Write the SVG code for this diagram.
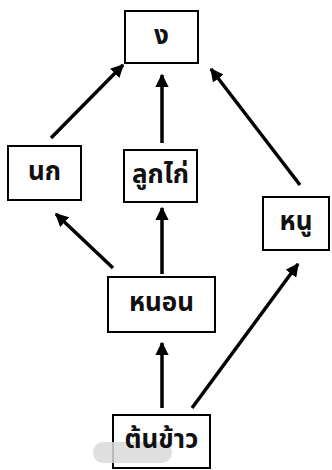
<svg xmlns="http://www.w3.org/2000/svg" width="332" height="470" viewBox="0 0 332 470">
<style>
.box{fill:#fff;stroke:#000;stroke-width:2}
.t{font-family:"Noto Sans Thai","Noto Sans","DejaVu Sans",sans-serif;font-size:26px;font-weight:bold;text-anchor:middle;dominant-baseline:central;fill:#111}
.c{stroke:#000;stroke-width:3.5;fill:none;marker-end:url(#ah)}
</style>
<defs>
<marker id="ah" viewBox="0 0 10 10" refX="9" refY="5" markerWidth="3.8" markerHeight="3.8" orient="auto" markerUnits="strokeWidth">
<path d="M0,0 L10,5 L0,10 z" fill="#000"/>
</marker>
</defs>
<rect width="332" height="470" fill="#fff"/>
<g id="connectors">
<line class="c" x1="51" y1="138" x2="123" y2="65"/>
<line class="c" x1="162" y1="143" x2="162" y2="75"/>
<line class="c" x1="300" y1="185" x2="211" y2="69"/>
<line class="c" x1="113" y1="268" x2="56" y2="214"/>
<line class="c" x1="162" y1="274" x2="162" y2="208"/>
<line class="c" x1="162" y1="408" x2="162" y2="343"/>
<line class="c" x1="192" y1="408" x2="298" y2="264"/>
</g>
<g id="n-snake"><rect class="box" x="125" y="11" width="73" height="52"/><text class="t" x="161.5" y="36">ง</text></g>
<g id="n-bird"><rect class="box" x="8" y="146" width="73" height="54"/><text class="t" x="44.5" y="172">นก</text></g>
<g id="n-chick"><rect class="box" x="124" y="150" width="73" height="52"/><text class="t" x="160.5" y="175">ลูกไก่</text></g>
<g id="n-rat"><rect class="box" x="263" y="197" width="66" height="53"/><text class="t" x="296" y="222">หนู</text></g>
<g id="n-worm"><rect class="box" x="108" y="277" width="107" height="55"/><text class="t" x="161.5" y="303">หนอน</text></g>
<g id="n-rice"><rect class="box" x="113" y="415" width="97" height="53"/><rect x="93" y="442" width="79" height="21" rx="10" fill="#d9d9d9" opacity="0.85"/><text class="t" x="161.5" y="440">ต้นข้าว</text></g>
</svg>
